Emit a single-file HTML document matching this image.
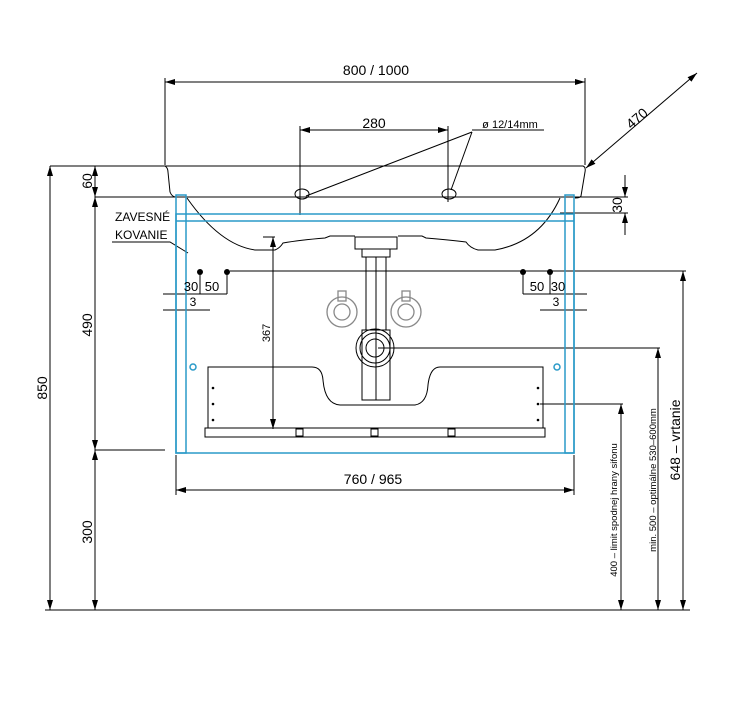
<!DOCTYPE html>
<html><head><style>
html,body{margin:0;padding:0;background:#fff;}
svg{display:block;font-family:"Liberation Sans",sans-serif;}
</style></head><body>
<svg width="746" height="710" viewBox="0 0 746 710" xmlns="http://www.w3.org/2000/svg">
<defs>
<marker id="a" viewBox="0 0 10 6" refX="10" refY="3" markerWidth="10" markerHeight="6" orient="auto-start-reverse" markerUnits="userSpaceOnUse"><path d="M0,0L10,3L0,6z" fill="#000"/></marker>
</defs>
<g stroke="#000" stroke-width="1" fill="none">
<!-- top dim 800/1000 -->
<line x1="165" y1="82" x2="585" y2="82" marker-start="url(#a)" marker-end="url(#a)"/>
<line x1="165" y1="78" x2="165" y2="165"/>
<line x1="585" y1="78" x2="585" y2="165"/>
<!-- basin -->
<path d="M50,166 H583 Q586,167 585,172 L581,196 Q580,198 575,198"/>
<path d="M165,166 Q168,168 168,172 L170,192 Q172,197 176,197"/>
<line x1="95" y1="197" x2="628" y2="197"/>
<line x1="560" y1="213" x2="628" y2="213"/>
<path d="M187,198 Q220,245 255,250 L275,250 Q280,248 283,243 Q300,240 325,238 L330,236 L355,236 M398,236 L422,236 L426,238 Q450,240 466,242 Q470,248 478,250 L495,250 Q540,242 560,198"/>
<!-- 280 -->
<line x1="300" y1="130" x2="448" y2="130" marker-start="url(#a)" marker-end="url(#a)"/>
<line x1="300" y1="126" x2="300" y2="215"/>
<line x1="448" y1="126" x2="448" y2="202"/>
<ellipse cx="302" cy="194" rx="7" ry="5"/>
<ellipse cx="449" cy="194" rx="7" ry="5"/>
<line x1="472" y1="132" x2="306" y2="196"/>
<line x1="472" y1="132" x2="451" y2="190"/>
<line x1="472" y1="130" x2="544" y2="130"/>
<!-- 470 -->
<line x1="586" y1="168" x2="697" y2="73" marker-start="url(#a)" marker-end="url(#a)"/>
<!-- 30 right -->
<line x1="625" y1="175" x2="625" y2="197" marker-end="url(#a)"/>
<line x1="625" y1="235" x2="625" y2="213" marker-end="url(#a)"/>
<!-- 850 -->
<line x1="50" y1="166" x2="50" y2="610" marker-start="url(#a)" marker-end="url(#a)"/>
<line x1="95" y1="166" x2="95" y2="197" marker-start="url(#a)" marker-end="url(#a)"/>
<line x1="95" y1="197" x2="95" y2="450" marker-start="url(#a)" marker-end="url(#a)"/>
<line x1="95" y1="450" x2="95" y2="610" marker-start="url(#a)" marker-end="url(#a)"/>
<line x1="95" y1="450" x2="165" y2="450"/>
<line x1="45" y1="610" x2="690" y2="610"/>
<!-- right verticals -->
<line x1="230" y1="271" x2="686" y2="271"/>
<line x1="683" y1="271" x2="683" y2="610" marker-start="url(#a)" marker-end="url(#a)"/>
<line x1="378" y1="348" x2="660" y2="348"/>
<line x1="658" y1="348" x2="658" y2="610" marker-start="url(#a)" marker-end="url(#a)"/>
<line x1="540" y1="404" x2="623" y2="404"/>
<line x1="621" y1="404" x2="621" y2="610" marker-start="url(#a)" marker-end="url(#a)"/>
<!-- 760/965 -->
<line x1="176" y1="490" x2="574" y2="490" marker-start="url(#a)" marker-end="url(#a)"/>
<line x1="176" y1="455" x2="176" y2="495"/>
<line x1="574" y1="455" x2="574" y2="495"/>
<!-- 367 -->
<line x1="263" y1="237" x2="275" y2="237"/>
<line x1="273" y1="237" x2="273" y2="429" marker-start="url(#a)" marker-end="url(#a)"/>
<!-- label leader -->
<path d="M112,242 H170 L188,253"/>
<!-- small dims -->
<line x1="200" y1="272" x2="200" y2="294"/><line x1="227" y1="272" x2="227" y2="294"/>
<line x1="523" y1="272" x2="523" y2="294"/><line x1="550" y1="272" x2="550" y2="294"/>
<line x1="163" y1="294" x2="227" y2="294"/><line x1="163" y1="310" x2="210" y2="310"/>
<line x1="523" y1="294" x2="587" y2="294"/><line x1="540" y1="310" x2="587" y2="310"/>
<!-- siphon -->
<rect x="355" y="237" width="42" height="12"/>
<rect x="362" y="249" width="28" height="8"/>
<rect x="366" y="257" width="20" height="73"/>
<line x1="376" y1="257" x2="376" y2="400"/>
<rect x="362" y="330" width="28" height="70"/>
<circle cx="375" cy="348" r="19"/><circle cx="375" cy="348" r="15"/><circle cx="375" cy="348" r="9"/>
<!-- drawer -->
<path d="M208,367 H312 Q322,367 323,380 Q325,404 340,405 L415,405 Q427,403 428,385 Q430,367 440,367 H543 V428 H208 Z"/>
<rect x="205" y="428" width="340" height="9"/>
<rect x="296" y="429" width="7" height="7"/><rect x="371" y="429" width="7" height="7"/><rect x="448" y="429" width="7" height="7"/>
</g>
<g stroke="#888" stroke-width="1.3" fill="none">
<circle cx="342" cy="312" r="15"/><circle cx="342" cy="312" r="8"/>
<circle cx="406" cy="312" r="15"/><circle cx="406" cy="312" r="8"/>
<rect x="338" y="291" width="8" height="10"/><rect x="402" y="291" width="8" height="10"/>
</g>
<g fill="#000">
<circle cx="200" cy="272" r="3"/><circle cx="227" cy="272" r="3"/>
<circle cx="523" cy="272" r="3"/><circle cx="550" cy="272" r="3"/>
<circle cx="213" cy="388" r="1.3"/><circle cx="213" cy="404" r="1.3"/><circle cx="213" cy="420" r="1.3"/>
<circle cx="538" cy="388" r="1.3"/><circle cx="538" cy="404" r="1.3"/><circle cx="538" cy="420" r="1.3"/>
</g>
<!-- cabinet (blue) -->
<g stroke="#2a9ac8" stroke-width="1.5" fill="none">
<rect x="176" y="214" width="398" height="239"/>
<line x1="176" y1="221" x2="574" y2="221"/>
<rect x="176" y="195" width="10" height="258"/>
<rect x="565" y="195" width="9" height="258"/>
<circle cx="193" cy="367" r="3"/><circle cx="557" cy="367" r="3"/>
</g>
<g font-size="14" fill="#000" text-anchor="middle">
<text x="376" y="75">800 / 1000</text>
<text x="374" y="128">280</text>
<text x="510" y="128" font-size="11">ø 12/14mm</text>
<text x="373" y="484">760 / 965</text>
<text transform="translate(640,122) rotate(-41)">470</text>
<text transform="translate(47,388) rotate(-90)">850</text>
<text transform="translate(92,181) rotate(-90)">60</text>
<text transform="translate(92,325) rotate(-90)">490</text>
<text transform="translate(92,532) rotate(-90)">300</text>
<text transform="translate(622,205) rotate(-90)">30</text>
<text transform="translate(270,333) rotate(-90)" font-size="11">367</text>
<text transform="translate(680,440) rotate(-90)">648 – vrtanie</text>
<text transform="translate(656,480) rotate(-90)" font-size="9.5">min. 500 – optimálne 530–600mm</text>
<text transform="translate(617,510) rotate(-90)" font-size="9.5">400 – limit spodnej hrany sifonu</text>
<text x="191" y="291" font-size="13">30</text><text x="212" y="291" font-size="13">50</text>
<text x="537" y="291" font-size="13">50</text><text x="558" y="291" font-size="13">30</text>
<text x="193" y="306" font-size="12">3</text><text x="556" y="306" font-size="12">3</text>
</g>
<text x="115" y="221" font-size="12">ZAVESNÉ</text>
<text x="115" y="239" font-size="12">KOVANIE</text>
</svg>
</body></html>
